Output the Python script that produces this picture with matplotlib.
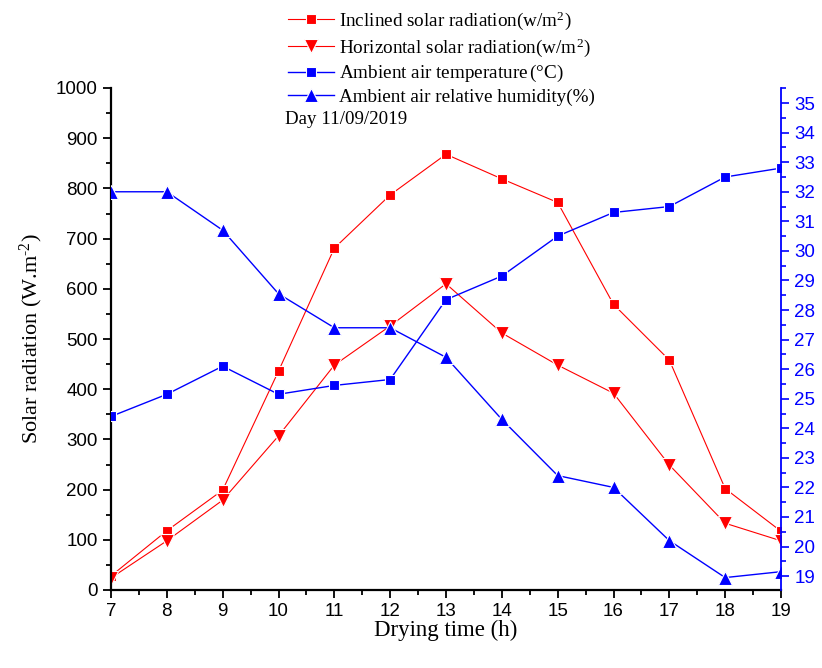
import numpy as np
import matplotlib.pyplot as plt
from matplotlib.ticker import MultipleLocator

hours = [7, 8, 9, 10, 11, 12, 13, 14, 15, 16, 17, 18, 19]
inclined = [28, 118, 199, 436, 681, 787, 868, 819, 772, 569, 458, 202, 117]
horizontal = [24, 98, 179, 307, 448, 526, 610, 512, 448, 392, 249, 133, 98]
temperature = [24.4, 25.15, 26.1, 25.15, 25.45, 25.65, 28.35, 29.15, 30.5, 31.3, 31.5, 32.5, 32.8]
humidity = [32.0, 32.0, 30.7, 28.55, 27.4, 27.4, 26.4, 24.3, 22.4, 22.0, 20.2, 18.95, 19.15]

serif = 'Liberation Serif'
sans = 'Liberation Sans'
plt.rcParams['mathtext.fontset'] = 'custom'
plt.rcParams['mathtext.rm'] = serif
plt.rcParams['mathtext.it'] = serif

fig = plt.figure(figsize=(8.22, 6.68), dpi=100)
ax = fig.add_axes([111/822, 1-590/668, 670/822, 502/668])
ax2 = ax.twinx()

def series(a, x, y, color, marker, ms, lw, label):
    return a.plot(x, y, color=color, lw=lw, marker=marker, ms=ms,
                  mec='white', mew=0.8, label=label)[0]

h1 = series(ax, hours, inclined, 'red', 's', 7.5, 0.8, 'Inclined solar radiation(w/m$^2$)')
h2 = series(ax, hours, horizontal, 'red', 'v', 10, 0.8, 'Horizontal solar radiation(w/m$^2$)')
h3 = series(ax2, hours, temperature, 'blue', 's', 7.5, 1.0, 'Ambient air temperature$\\,$(°C)')
h4 = series(ax2, hours, humidity, 'blue', '^', 10, 1.0, 'Ambient air relative humidity(%)')

ax.set_xlim(7, 19)
ax.set_ylim(0, 1000)
ax2.set_ylim(18.53, 35.51)

ax.xaxis.set_major_locator(MultipleLocator(1))
ax.xaxis.set_minor_locator(MultipleLocator(0.5))
ax.yaxis.set_major_locator(MultipleLocator(100))
ax.yaxis.set_minor_locator(MultipleLocator(50))
ax2.yaxis.set_major_locator(MultipleLocator(1))
ax2.yaxis.set_minor_locator(MultipleLocator(0.5))

for a in (ax, ax2):
    a.spines['top'].set_visible(False)
ax.spines['right'].set_visible(False)
ax.spines['left'].set_linewidth(1.6)
ax.spines['bottom'].set_linewidth(1.6)
ax2.spines['left'].set_visible(False)
ax2.spines['bottom'].set_visible(False)
ax2.spines['right'].set_color('blue')
ax2.spines['right'].set_linewidth(1.3)

ax.tick_params(which='both', direction='out', width=1.3, labelsize=13.5)
ax.tick_params(which='major', length=6)
ax.tick_params(which='minor', length=3.5)
ax2.tick_params(which='both', direction='out', width=1.2, color='blue',
                labelcolor='blue', labelsize=13.5)
ax2.tick_params(which='major', length=6)
ax2.tick_params(which='minor', length=3.5)
for lab in ax.get_xticklabels() + ax.get_yticklabels() + ax2.get_yticklabels():
    lab.set_fontfamily(sans)

ax.set_xlabel('Drying time (h)', fontfamily=serif, fontsize=16.5, labelpad=0)
ax.set_ylabel('Solar radiation (W.m$^{\u20102}$)', fontfamily=serif, fontsize=16, labelpad=8)

fig.legend(handles=[h1, h2, h3, h4], loc='upper left',
           bbox_to_anchor=(280/822, 1-2/668), frameon=False,
           prop={'family': serif, 'size': 13.8}, handlelength=2.4,
           handletextpad=0.3, labelspacing=0.22, borderaxespad=0)
fig.text(285/822, 1-120/668, 'Day 11/09/2019', fontfamily=serif, fontsize=13.6, va='center')

fig.savefig('out.png', dpi=100)
